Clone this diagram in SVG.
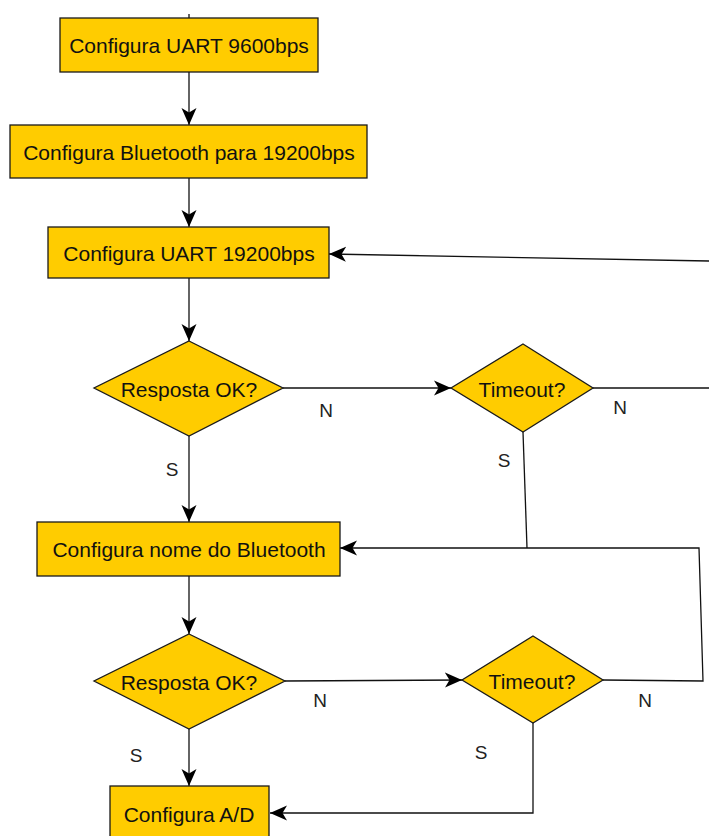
<svg xmlns="http://www.w3.org/2000/svg" width="709" height="836" viewBox="0 0 709 836">
<style>
.box{fill:#FFCC00;stroke:#1a1a1a;stroke-width:1.3}
.t{font-family:"Liberation Sans",Arial,sans-serif;font-size:21px;fill:#111;text-anchor:middle;dominant-baseline:central}
.l{font-family:"Liberation Sans",Arial,sans-serif;font-size:19px;fill:#222;text-anchor:middle;dominant-baseline:central}
.c{fill:none;stroke:#111;stroke-width:1.3}
.a{marker-end:url(#arr)}
</style>
<defs>
<marker id="arr" markerUnits="userSpaceOnUse" markerWidth="18" markerHeight="16" refX="17" refY="7.5" orient="auto" viewBox="0 0 18 15">
<path d="M0,0 L17,7.5 L0,15 L4.5,7.5 Z" fill="#000"/>
</marker>
</defs>
<rect width="709" height="836" fill="#fff"/>
<g id="connectors">
<path class="c" d="M189,14 L189,18"/>
<path class="c a" d="M189,72 L189,125"/>
<path class="c a" d="M189,178 L189,227"/>
<path class="c a" d="M189,278 L189,341"/>
<path class="c a" d="M283,388 L451,388"/>
<path class="c a" d="M189,436 L189,522"/>
<path class="c" d="M593,388 L710,388"/>
<path class="c a" d="M710,261 L329,254"/>
<path class="c" d="M523,432 L527,548"/>
<path class="c a" d="M603,680 L703,681 L699,548 L340,548"/>
<path class="c a" d="M189,576 L189,634"/>
<path class="c a" d="M285,681 L462,680"/>
<path class="c a" d="M189,729 L189,786"/>
<path class="c a" d="M533,723 L533,813 L270,813"/>
</g>
<g id="labels">
<text class="l" x="326" y="410">N</text>
<text class="l" x="172" y="469">S</text>
<text class="l" x="620" y="407">N</text>
<text class="l" x="504" y="460">S</text>
<text class="l" x="320" y="700">N</text>
<text class="l" x="645" y="700">N</text>
<text class="l" x="136" y="755">S</text>
<text class="l" x="481" y="752">S</text>
</g>
<g id="n1"><rect class="box" x="60" y="18" width="258" height="54"/><text class="t" x="189" y="45">Configura UART 9600bps</text></g>
<g id="n2"><rect class="box" x="10" y="125" width="357" height="53"/><text class="t" x="189" y="152">Configura Bluetooth para 19200bps</text></g>
<g id="n3"><rect class="box" x="48" y="227" width="281" height="51"/><text class="t" x="189" y="253">Configura UART 19200bps</text></g>
<g id="d1"><polygon class="box" points="189,341 283,388 189,436 94,388"/><text class="t" x="189" y="389">Resposta OK?</text></g>
<g id="t1"><polygon class="box" points="523,344 593,388 523,432 451,388"/><text class="t" x="522" y="389">Timeout?</text></g>
<g id="n4"><rect class="box" x="37" y="522" width="303" height="54"/><text class="t" x="189" y="549">Configura nome do Bluetooth</text></g>
<g id="d2"><polygon class="box" points="189,634 285,681 189,729 94,681"/><text class="t" x="189" y="682">Resposta OK?</text></g>
<g id="t2"><polygon class="box" points="533,636 603,680 533,723 462,680"/><text class="t" x="532" y="681">Timeout?</text></g>
<g id="n5"><rect class="box" x="110" y="786" width="159" height="60"/><text class="t" x="189" y="814">Configura A/D</text></g>
</svg>
